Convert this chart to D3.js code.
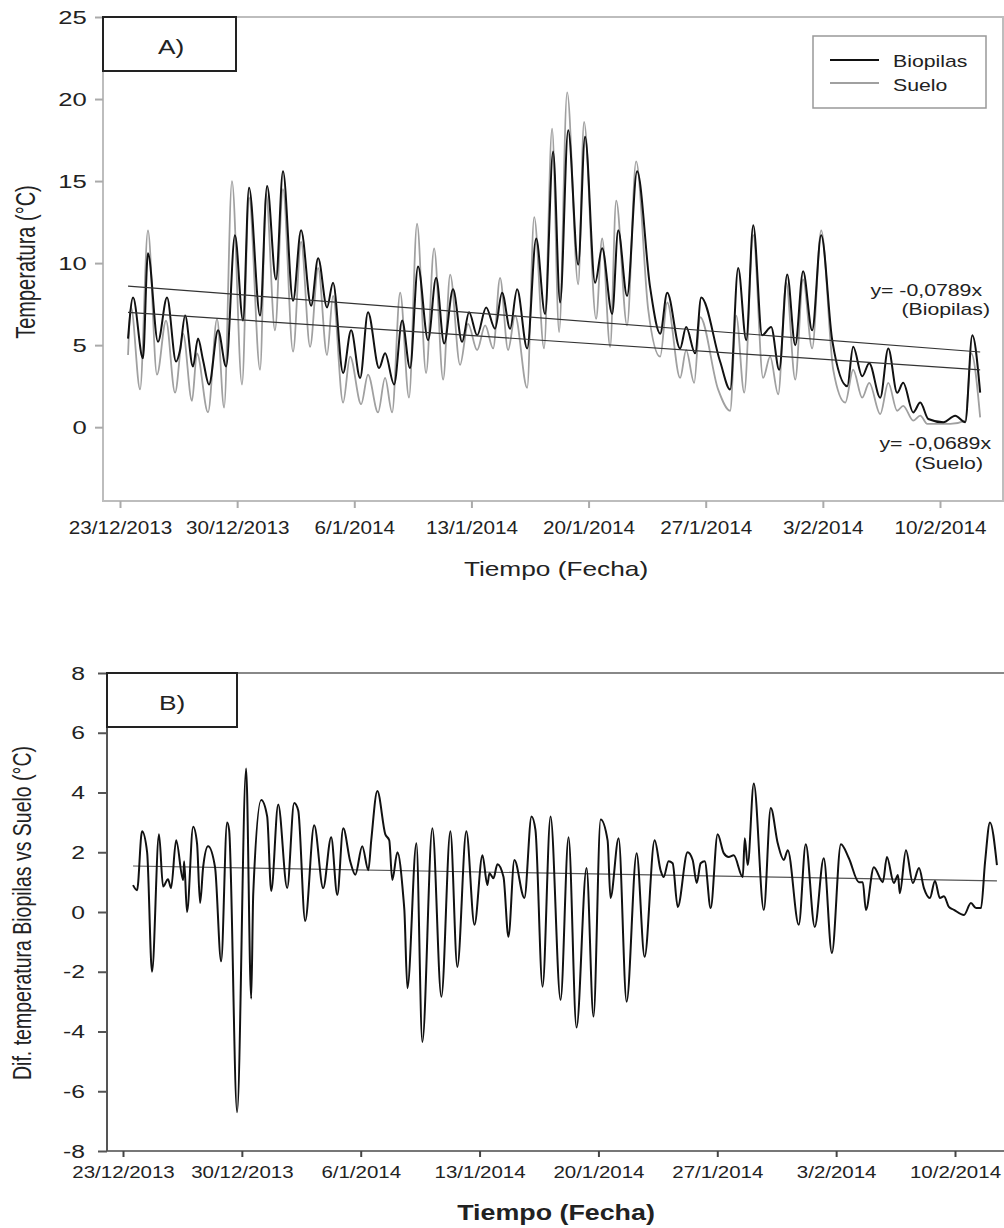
<!DOCTYPE html>
<html>
<head>
<meta charset="utf-8">
<title>Biopilas vs Suelo</title>
<style>
  body { margin: 0; background: #fff; }
  svg text { font-family: "Liberation Sans", Arial, sans-serif; fill: #222; }
</style>
</head>
<body>
<svg id="chart" width="1004" height="1228"></svg>
<script src="https://cdn.jsdelivr.net/npm/d3@7"></script>
<script>
// [days since 23/12/2013 00:00, value]
var biopilas = [[0.48,5.4],[0.78,7.9],[1.37,4.2],[1.67,10.6],[2.27,5.2],[2.81,7.9],[3.35,4.0],[3.59,4.7],[3.89,6.8],[4.36,3.7],
  [4.66,5.4],[4.96,4.1],[5.32,2.6],[5.86,5.9],[6.34,3.7],[6.87,11.7],[7.35,6.5],[7.71,14.6],[8.37,6.8],[8.79,14.7],
  [9.32,9.0],[9.74,15.6],[10.34,7.7],[10.82,12.0],[11.42,7.4],[11.84,10.3],[12.37,7.3],[12.73,8.8],[13.33,3.3],[13.81,5.9],
  [14.35,3.0],[14.82,7.0],[15.48,3.6],[15.84,4.5],[16.38,2.6],[16.86,6.5],[17.33,3.6],[17.81,9.8],[18.41,5.3],[18.89,9.1],
  [19.37,5.1],[19.90,8.4],[20.44,5.2],[20.86,7.0],[21.34,5.6],[21.88,7.3],[22.41,6.0],[22.83,8.2],[23.31,6.0],[23.73,8.4],
  [24.33,4.8],[24.87,11.5],[25.40,6.9],[25.88,16.8],[26.30,7.6],[26.78,18.1],[27.38,9.9],[27.79,17.7],[28.39,8.8],[28.81,10.9],
  [29.41,6.9],[29.77,12.0],[30.30,8.0],[30.90,15.6],[31.68,8.5],[32.28,5.7],[32.70,8.2],[33.47,4.8],[33.83,6.1],[34.37,4.5],
  [34.73,7.9],[35.86,4.0],[36.46,2.3],[36.94,9.7],[37.42,5.3],[37.84,12.3],[38.37,5.6],[38.91,6.1],[39.39,3.5],[39.87,9.3],
  [40.35,5.0],[40.82,9.5],[41.36,5.9],[41.90,11.7],[42.56,5.3],[43.46,2.5],[43.81,4.9],[44.35,3.1],[44.77,3.9],[45.43,1.8],
  [45.91,4.8],[46.44,2.1],[46.80,2.7],[47.40,0.9],[47.82,1.5],[48.30,0.5],[49.20,0.3],[49.91,0.7],[50.51,0.3],[50.93,5.6],
  [51.40,2.1]];

var suelo = [[0.48,4.4],[0.66,7.3],[1.20,2.3],[1.67,12.0],[2.21,3.2],[2.75,6.5],[3.29,2.1],[3.77,5.7],[4.30,1.6],[4.60,4.5],
  [5.26,0.9],[5.80,6.6],[6.22,1.2],[6.69,15.0],[7.29,2.6],[7.71,14.0],[8.37,3.5],[8.73,14.2],[9.26,5.9],[9.74,14.5],
  [10.34,4.6],[10.82,11.3],[11.36,4.9],[11.84,9.7],[12.37,4.4],[12.73,8.0],[13.33,1.5],[13.75,4.3],[14.41,1.4],[14.82,3.2],
  [15.42,0.9],[15.84,3.0],[16.26,0.9],[16.74,8.2],[17.27,1.8],[17.75,12.4],[18.29,3.3],[18.77,10.9],[19.31,2.9],[19.73,9.3],
  [20.32,3.8],[20.80,6.3],[21.34,4.7],[21.82,6.2],[22.30,4.8],[22.71,9.1],[23.19,4.7],[23.61,6.8],[24.33,2.4],[24.75,12.8],
  [25.34,4.8],[25.82,18.2],[26.24,5.8],[26.72,20.4],[27.38,8.7],[27.73,18.6],[28.45,6.6],[28.81,11.5],[29.29,4.9],[29.65,13.8],
  [30.30,6.2],[30.84,16.2],[31.56,7.2],[32.28,4.3],[32.70,7.6],[33.47,3.0],[33.83,4.7],[34.31,2.7],[34.67,6.7],[35.74,2.3],
  [36.46,1.0],[36.82,6.8],[37.30,2.1],[37.84,11.7],[38.43,3.0],[38.85,4.3],[39.33,2.0],[39.81,8.8],[40.35,2.9],[40.82,9.0],
  [41.36,4.8],[41.90,12.0],[42.62,3.5],[43.34,1.5],[43.81,3.5],[44.35,1.8],[44.77,2.7],[45.43,0.8],[45.91,2.7],[46.44,1.0],
  [46.80,1.3],[47.40,0.4],[47.82,0.7],[48.24,0.2],[49.61,0.2],[50.51,0.4],[50.87,4.5],[51.40,0.6]];

var diferencia = [[0.59,0.9],[0.83,0.73],[1.12,2.7],[1.42,2.0],[1.71,-2.0],[2.12,2.6],[2.36,0.85],[2.65,1.1],[2.83,0.8],[3.13,2.4],
  [3.54,1.07],[3.60,1.7],[3.77,0.0],[4.13,2.85],[4.36,2.3],[4.54,0.3],[4.72,1.5],[5.01,2.2],[5.42,1.5],[5.78,-1.65],
  [6.13,3.0],[6.25,2.75],[6.72,-6.7],[7.25,4.8],[7.55,-2.9],[7.67,0.6],[8.14,3.75],[8.49,3.2],[8.73,0.7],[9.14,3.6],
  [9.67,0.8],[10.08,3.65],[10.32,3.4],[10.73,-0.3],[11.26,2.9],[11.79,0.8],[12.26,2.5],[12.62,0.57],[12.97,2.8],[13.38,1.7],
  [13.68,1.25],[14.09,2.2],[14.45,1.4],[14.62,2.4],[14.98,4.05],[15.45,2.6],[15.68,2.4],[15.86,1.07],[16.16,2.0],[16.51,0.5],
  [16.57,0.07],[16.75,-2.55],[17.28,2.3],[17.63,-4.35],[18.22,2.8],[18.75,-2.84],[19.28,2.7],[19.69,-1.84],[20.22,2.7],[20.70,-0.43],
  [21.17,1.9],[21.46,0.9],[21.58,1.3],[21.82,1.13],[22.05,1.6],[22.41,1.17],[22.70,-0.83],[23.05,1.74],[23.64,0.47],[24.06,3.2],
  [24.29,2.75],[24.71,-2.5],[25.18,3.2],[25.77,-2.94],[26.24,2.5],[26.71,-3.87],[27.30,1.47],[27.71,-3.5],[28.13,3.1],[28.54,2.4],
  [28.71,0.47],[29.19,2.47],[29.66,-3.0],[30.25,1.97],[30.72,-1.5],[31.31,2.4],[31.66,1.4],[31.84,1.17],[32.13,1.7],[32.37,1.63],
  [32.67,0.17],[33.25,2.0],[33.55,1.74],[33.79,0.97],[34.02,1.63],[34.26,1.7],[34.61,0.13],[35.02,2.6],[35.38,1.97],[35.67,1.84],
  [35.97,1.9],[36.50,1.17],[36.62,2.47],[36.79,1.57],[37.15,4.3],[37.74,0.07],[38.15,3.48],[38.56,2.3],[38.92,1.74],[39.15,2.07],
  [39.80,-0.43],[40.21,2.27],[40.74,-0.5],[41.27,1.8],[41.75,-1.37],[42.28,2.27],[42.75,1.8],[43.34,1.0],[43.57,1.0],[43.75,0.07],
  [44.22,1.5],[44.75,1.0],[44.99,1.84],[45.40,0.97],[45.64,1.24],[45.75,0.63],[46.11,2.07],[46.52,0.97],[46.88,1.47],[47.17,0.8],
  [47.52,0.47],[47.82,1.04],[48.11,0.47],[48.35,0.53],[48.64,0.17],[48.94,0.07],[49.53,-0.1],[49.94,0.3],[50.24,0.13],[50.53,0.13],
  [50.77,1.67],[51.06,3.0],[51.47,1.57]];

var tickLabels = ["23/12/2013","30/12/2013","6/1/2014","13/1/2014","20/1/2014","27/1/2014","3/2/2014","10/2/2014"];
var yTicksA = [0, 5, 10, 15, 20, 25];
var yTicksB = [-8, -6, -4, -2, 0, 2, 4, 6, 8];
// linear trends: [start day, start value, slope per day, end day]
var trendBio = [0.48, 8.6, -0.0789, 51.4];
var trendSuelo = [0.48, 7.0, -0.0689, 51.4];
var trendDif = [0.59, 1.54, -0.0098, 51.47];

var start = new Date(2013, 11, 23);
function toDate(d) { return new Date(start.getTime() + d * 864e5); }
var parse = d3.timeParse("%d/%m/%Y");
var fmt = function(d) { return d.getDate() + "/" + (d.getMonth() + 1) + "/" + d.getFullYear(); };
var num = function(d) { return String(d); };  // plain hyphen minus, as in the figure
var tickDates = tickLabels.map(function(s) { return parse(s); });

var svg = d3.select("#chart");

function txt(g, x, y, s, size, anchor, sx, weight) {
  return g.append("text")
    .attr("transform", "translate(" + x + "," + y + ") scale(" + sx + ",1)")
    .attr("text-anchor", anchor)
    .attr("font-size", size)
    .attr("font-weight", weight || "normal")
    .text(s);
}
function trendPts(t) { return [[t[0], t[1]], [t[3], t[1] + t[2] * (t[3] - t[0])]]; }

// ---------- A) ----------
var xA = d3.scaleTime().domain([toDate(0), toDate(49)]).range([120, 940]);
var yA = d3.scaleLinear().domain([-4.5, 25]).range([501, 17]);
var gA = svg.append("g");

gA.append("path")
  .attr("d", "M103,17H1003V501H103Z")
  .attr("fill", "none").attr("stroke", "#bdbdbd").attr("stroke-width", 2);

var axA = gA.append("g").attr("transform", "translate(0,501)")
  .call(d3.axisBottom(xA).tickValues(tickDates).tickFormat(fmt).tickSize(7).tickPadding(13));
axA.select(".domain").remove();
axA.selectAll("line").attr("stroke", "#aaa").attr("stroke-width", 2);
axA.selectAll("text").attr("font-size", 18).attr("transform", "scale(1.15,1)").attr("fill", "#222");

var ayA = gA.append("g").attr("transform", "translate(103,0)")
  .call(d3.axisLeft(yA).tickValues(yTicksA).tickFormat(num).tickSize(8).tickPadding(4));
ayA.select(".domain").remove();
ayA.selectAll("line").attr("stroke", "#aaa").attr("stroke-width", 2);
ayA.selectAll("text").attr("font-size", 19).attr("transform", "scale(1.35,1)").attr("fill", "#222");

var lineA = d3.line()
  .x(function(d) { return xA(toDate(d[0])); })
  .y(function(d) { return yA(d[1]); })
  .curve(d3.curveMonotoneX);

gA.append("path").datum(suelo).attr("d", lineA)
  .attr("fill", "none").attr("stroke", "#a0a0a0").attr("stroke-width", 1.8);
gA.append("path").datum(biopilas).attr("d", lineA)
  .attr("fill", "none").attr("stroke", "#111").attr("stroke-width", 2);

[trendBio, trendSuelo].forEach(function(t) {
  gA.append("path").datum(trendPts(t)).attr("d", d3.line()
      .x(function(d) { return xA(toDate(d[0])); })
      .y(function(d) { return yA(d[1]); }))
    .attr("fill", "none").attr("stroke", "#333").attr("stroke-width", 1.2);
});

// panel label
gA.append("rect").attr("x", 103).attr("y", 17).attr("width", 133).attr("height", 54)
  .attr("fill", "#fff").attr("stroke", "#222").attr("stroke-width", 2);
txt(gA, 171, 54, "A)", 21, "middle", 1.25);

// legend
gA.append("rect").attr("x", 813).attr("y", 36).attr("width", 173).attr("height", 72)
  .attr("fill", "#fff").attr("stroke", "#999").attr("stroke-width", 1.5);
gA.append("line").attr("x1", 830).attr("x2", 879).attr("y1", 60).attr("y2", 60)
  .attr("stroke", "#111").attr("stroke-width", 2);
gA.append("line").attr("x1", 830).attr("x2", 879).attr("y1", 83).attr("y2", 83)
  .attr("stroke", "#a0a0a0").attr("stroke-width", 1.8);
txt(gA, 893, 67, "Biopilas", 17, "start", 1.25);
txt(gA, 893, 91, "Suelo", 17, "start", 1.25);

// trend equations
txt(gA, 982, 296, "y= -0,0789x", 17, "end", 1.25);
txt(gA, 990, 315, "(Biopilas)", 17, "end", 1.25);
txt(gA, 991, 449, "y= -0,0689x", 17, "end", 1.25);
txt(gA, 983, 469, "(Suelo)", 17, "end", 1.25);

txt(gA, 556, 576, "Tiempo (Fecha)", 21, "middle", 1.25);
gA.append("text")
  .attr("transform", "translate(35,262) rotate(-90) scale(1,1.35)")
  .attr("text-anchor", "middle").attr("font-size", 20)
  .text("Temperatura (°C)");

// ---------- B) ----------
var xB = d3.scaleTime().domain([toDate(0), toDate(49)]).range([123, 955]);
var yB = d3.scaleLinear().domain([-8, 8]).range([1151, 673]);
var gB = svg.append("g");

gB.append("line").attr("x1", 107).attr("x2", 1004).attr("y1", 673).attr("y2", 673)
  .attr("stroke", "#888").attr("stroke-width", 2);
gB.append("line").attr("x1", 107).attr("x2", 1004).attr("y1", 1151).attr("y2", 1151)
  .attr("stroke", "#777").attr("stroke-width", 2);
gB.append("line").attr("x1", 107).attr("x2", 107).attr("y1", 673).attr("y2", 1151)
  .attr("stroke", "#555").attr("stroke-width", 2);

var axB = gB.append("g").attr("transform", "translate(0,1151)")
  .call(d3.axisBottom(xB).tickValues(tickDates).tickFormat(fmt).tickSize(6).tickPadding(10));
axB.select(".domain").remove();
axB.selectAll("line").attr("stroke", "#444").attr("stroke-width", 2);
axB.selectAll("text").attr("font-size", 16).attr("transform", "scale(1.28,1)").attr("fill", "#222");

var ayB = gB.append("g").attr("transform", "translate(107,0)")
  .call(d3.axisLeft(yB).tickValues(yTicksB).tickFormat(num).tickSize(9).tickPadding(8));
ayB.select(".domain").remove();
ayB.selectAll("line").attr("stroke", "#555").attr("stroke-width", 2);
ayB.selectAll("text").attr("font-size", 19).attr("transform", "scale(1.3,1)").attr("fill", "#222");

var lineB = d3.line()
  .x(function(d) { return xB(toDate(d[0])); })
  .y(function(d) { return yB(d[1]); })
  .curve(d3.curveMonotoneX);

gB.append("path").datum(trendPts(trendDif)).attr("d", d3.line()
    .x(function(d) { return xB(toDate(d[0])); })
    .y(function(d) { return yB(d[1]); }))
  .attr("fill", "none").attr("stroke", "#555").attr("stroke-width", 1.2);
gB.append("path").datum(diferencia).attr("d", lineB)
  .attr("fill", "none").attr("stroke", "#111").attr("stroke-width", 2);

gB.append("rect").attr("x", 107).attr("y", 673).attr("width", 130).attr("height", 54)
  .attr("fill", "#fff").attr("stroke", "#222").attr("stroke-width", 2);
txt(gB, 172, 710, "B)", 21, "middle", 1.25);

txt(gB, 556, 1220, "Tiempo (Fecha)", 22, "middle", 1.22, "bold");
gB.append("text")
  .attr("transform", "translate(31,913) rotate(-90) scale(1,1.3)")
  .attr("text-anchor", "middle").attr("font-size", 19.5)
  .text("Dif. temperatura Biopilas vs Suelo (°C)");
</script>
</body>
</html>
